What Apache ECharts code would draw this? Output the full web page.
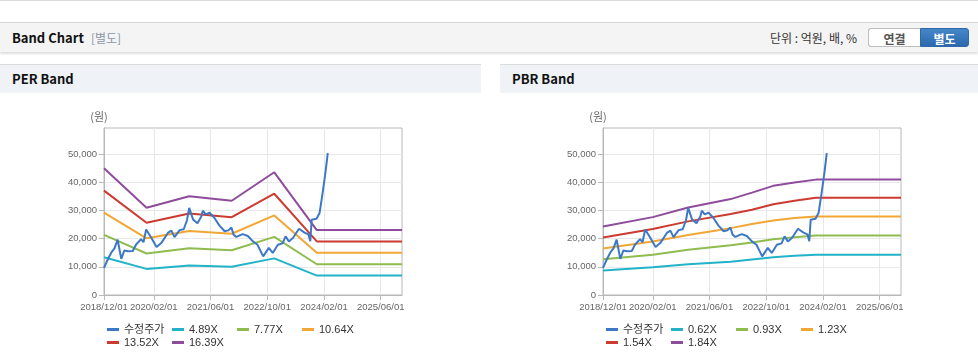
<!DOCTYPE html>
<html>
<head>
<meta charset="utf-8">
<script src="https://cdn.jsdelivr.net/npm/echarts@6/dist/echarts.min.js"></script>
<style>
  html, body { margin: 0; padding: 0; }
  body { width: 978px; height: 361px; overflow: hidden; background: #fff; position: relative;
         font-family: "Noto Sans CJK KR", "Liberation Sans", sans-serif; }
  .topline { position: absolute; left: 0; top: 0; width: 978px; height: 1px; background: #dadada; }
  .hdr { position: absolute; left: 0; top: 22px; width: 978px; height: 29px; background: #f4f4f4;
         border-top: 1px solid #d6d6d6; box-shadow: 0 2px 2px rgba(0,0,0,0.13); }
  .hdr .t { position: absolute; left: 12px; top: 0; line-height: 29px; font-size: 13px; font-weight: bold; color: #111; }
  .hdr .t span { color: #8b96a8; font-weight: normal; font-size: 12px; margin-left: 7px; }
  .hdr .unit { position: absolute; left: 770px; top: 0; line-height: 29px; font-size: 12px; color: #333; }
  .btn { position: absolute; top: 5px; height: 19px; line-height: 19px; font-size: 12px; font-weight: bold; text-align: center; box-sizing: border-box; }
  .b1 { left: 868px; width: 52px; background: #fff; color: #555; border: 1px solid #bdbdbd; border-right: none; border-radius: 3px 0 0 3px; }
  .b2 { left: 920px; width: 49px; background: linear-gradient(#4586c9, #2d69ad); color: #fff; border: 1px solid #2e68a8; border-radius: 0 3px 3px 0; }
  .ph { position: absolute; top: 64px; height: 28px; background: #eff2f7; border-top: 1px solid #dcdcdc; }
  .ph span { position: absolute; left: 12px; top: 0; line-height: 28px; font-size: 13px; font-weight: bold; color: #111; }
  #per { position: absolute; left: 0; top: 93px; width: 481px; height: 268px; }
  #pbr { position: absolute; left: 500px; top: 93px; width: 478px; height: 268px; }
</style>
</head>
<body>
<div class="topline"></div>
<div class="hdr">
  <div class="t">Band Chart<span>[별도]</span></div>
  <div class="unit">단위 : 억원, 배, %</div>
  <div class="btn b1">연결</div>
  <div class="btn b2">별도</div>
</div>
<div class="ph" style="left:0;width:481px"><span>PER Band</span></div>
<div class="ph" style="left:500px;width:478px"><span>PBR Band</span></div>
<div id="per"></div>
<div id="pbr"></div>
<script>
// ---- tick labels ----
const xTickDates = ['2018-12-01', '2020-02-01', '2021-06-01', '2022-10-01', '2024-02-01', '2025-06-01'];
const yTickValues = [0, 10000, 20000, 30000, 40000, 50000];
const xMin = '2018-12-01', xMax = '2025-12-01';
const yMax = 59200;

// ---- adjusted stock price (수정주가) ----
const priceDates = ['2018-12-01','2019-01-01','2019-02-01','2019-03-01','2019-03-28','2019-04-28','2019-05-25','2019-06-25',
  '2019-08-05','2019-09-01','2019-10-15','2019-11-05','2019-11-28','2020-01-12','2020-02-25','2020-04-05','2020-06-01',
  '2020-07-01','2020-07-28','2020-09-10','2020-10-15','2020-11-12','2020-12-01','2021-01-03','2021-02-10','2021-03-15',
  '2021-03-28','2021-04-22','2021-05-25','2021-07-06','2021-08-18','2021-10-01','2021-11-01','2021-11-28','2021-12-18',
  '2022-01-10','2022-03-05','2022-04-18','2022-06-01','2022-07-10','2022-08-28','2022-10-15','2022-11-18','2023-01-01',
  '2023-02-10','2023-03-08','2023-04-05','2023-05-10','2023-07-01','2023-08-18','2023-09-20','2023-10-06','2023-10-18',
  '2023-11-28','2023-12-25','2024-01-21','2024-02-15','2024-03-04'];
const priceValues = [9600,12500,15000,16500,19600,12800,15800,15500,
  15600,17800,19800,18700,23200,20200,17000,18400,22000,
  22800,20500,23000,23300,26500,30900,26800,25400,27800,
  29900,28600,29200,27300,24600,22600,22900,23900,21300,
  20600,21600,20900,19000,17800,13700,16700,14900,17800,
  18300,20800,19000,20200,23500,22100,21500,19100,26700,
  27000,29100,36500,44000,50300];

// ---- PER bands ----
const perDates = ['2018-12-01','2019-12-01','2020-12-01','2021-12-01','2022-12-01','2023-12-01','2025-12-01'];
const per489  = [13400, 9250, 10450, 9980, 12980, 6870, 6870];
const per777  = [21300, 14700, 16600, 15850, 20600, 10900, 10900];
const per1064 = [29200, 20100, 22700, 21700, 28200, 14950, 14950];
const per1352 = [37000, 25600, 28900, 27600, 35900, 19000, 19000];
const per1639 = [44900, 30900, 35000, 33400, 43500, 23000, 23000];
const perNames = ['수정주가', '4.89X', '7.77X', '10.64X', '13.52X', '16.39X'];

// ---- PBR bands ----
const pbrDates = ['2018-12-01','2020-02-01','2020-12-01','2021-12-01','2022-06-01','2022-12-01','2023-06-01','2023-12-01','2025-12-01'];
const pbr062 = [8700, 9800, 10900, 11800, 12600, 13400, 13900, 14300, 14300];
const pbr093 = [12700, 14300, 16000, 17600, 18600, 19800, 20500, 21100, 21100];
const pbr123 = [16500, 19000, 21300, 23700, 25200, 26400, 27300, 27800, 27800];
const pbr154 = [20400, 23400, 26100, 28700, 30200, 32200, 33400, 34500, 34500];
const pbr184 = [24300, 27600, 31000, 34000, 36300, 38700, 39900, 40900, 40900];
const pbrNames = ['수정주가', '0.62X', '0.93X', '1.23X', '1.54X', '1.84X'];

const colors = ['#3d78c6', '#22b3c8', '#8fbc4f', '#f2a634', '#cc3a30', '#8e4c9c'];

function ts(s) { const p = s.split('-'); return Date.UTC(+p[0], +p[1] - 1, +p[2]); }
function pad(n) { return n < 10 ? '0' + n : '' + n; }
function fmtDate(v) { const d = new Date(v); return d.getUTCFullYear() + '/' + pad(d.getUTCMonth() + 1) + '/' + pad(d.getUTCDate()); }
function pairs(dates, vals) { return dates.map((d, i) => [ts(d), vals[i]]); }

const numFont = '"Liberation Sans", Arial, sans-serif';
const legFont = '"Liberation Sans", "Noto Sans CJK KR", sans-serif';

function makeOption(names, bandDates, bands, gridLeft) {
  const series = [{
    name: names[0], type: 'line', data: pairs(priceDates, priceValues), symbol: 'none', z: 3,
    lineStyle: { width: 2, color: colors[0] }, itemStyle: { color: colors[0] }
  }];
  bands.forEach((b, i) => {
    series.push({
      name: names[i + 1], type: 'line', data: pairs(bandDates, b), symbol: 'none', z: 2,
      lineStyle: { width: 2, color: colors[i + 1] }, itemStyle: { color: colors[i + 1] }
    });
  });
  return {
    animation: false,
    grid: { left: gridLeft, top: 35, width: 298, height: 167, show: true, borderColor: '#b8b8b8', borderWidth: 1 },
    legend: {
      left: gridLeft + 3, top: 230, width: 275, padding: 0, itemGap: 0, icon: 'rect',
      itemWidth: 12, itemHeight: 3, data: names,
      textStyle: { fontSize: 11, color: '#333', width: 48, lineHeight: 13, fontFamily: legFont }
    },
    xAxis: {
      type: 'value', min: ts(xMin), max: ts(xMax),
      axisLine: { lineStyle: { color: '#b8b8b8' } },
      axisTick: { show: true, length: 5, customValues: xTickDates.map(ts), lineStyle: { color: '#b8b8b8' } },
      axisLabel: { customValues: xTickDates.map(ts), formatter: fmtDate, color: '#666', fontSize: 9.5,
                   fontFamily: numFont, margin: 7, hideOverlap: false },
      splitLine: { show: true, lineStyle: { color: '#e8e8e8' } }
    },
    yAxis: {
      type: 'value', min: 0, max: yMax, name: '(원)', nameLocation: 'end', nameGap: 6,
      nameTextStyle: { color: '#666', fontSize: 11, fontFamily: '"Noto Sans CJK KR", sans-serif', padding: [0, 10, 0, 0] },
      axisLine: { show: true, lineStyle: { color: '#b8b8b8' } },
      axisTick: { show: true, length: 5, customValues: yTickValues, lineStyle: { color: '#b8b8b8' } },
      axisLabel: { customValues: yTickValues, formatter: v => echarts.format.addCommas(v), color: '#666',
                   fontSize: 9.5, fontFamily: numFont, margin: 7 },
      splitLine: { show: true, lineStyle: { color: '#e8e8e8' } }
    },
    series: series
  };
}

const perChart = echarts.init(document.getElementById('per'), null, { renderer: 'canvas' });
perChart.setOption(makeOption(perNames, perDates, [per489, per777, per1064, per1352, per1639], 104));
const pbrChart = echarts.init(document.getElementById('pbr'), null, { renderer: 'canvas' });
pbrChart.setOption(makeOption(pbrNames, pbrDates, [pbr062, pbr093, pbr123, pbr154, pbr184], 103));
</script>
</body>
</html>
